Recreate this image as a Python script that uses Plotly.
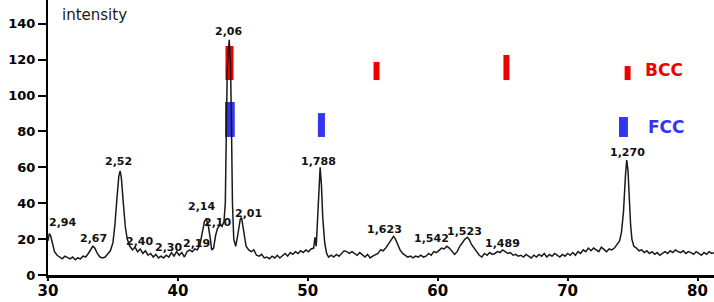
import plotly.graph_objects as go

# ---- diffraction curve ----
angle_deg = [30.0, 30.1, 30.2, 30.35, 30.5, 30.7, 30.9, 31.1, 31.3, 31.5, 31.7, 31.9, 32.1, 32.3, 32.5, 32.7, 32.9,
             33.1, 33.3, 33.45, 33.6, 33.8, 34.0, 34.2, 34.4, 34.6, 34.8, 35.0, 35.15, 35.3, 35.45, 35.55, 35.65,
             35.8, 35.95, 36.1, 36.3, 36.5, 36.7, 36.9, 37.1, 37.3, 37.5, 37.7, 37.9, 38.1, 38.3, 38.5, 38.7, 38.9,
             39.1, 39.3, 39.5, 39.7, 39.9, 40.1, 40.3, 40.5, 40.7, 40.9, 41.1, 41.3, 41.5, 41.7, 41.9, 42.05, 42.2,
             42.35, 42.5, 42.6, 42.75, 42.9, 43.05, 43.25, 43.4, 43.55, 43.65, 43.72, 43.8, 43.95, 44.05, 44.12,
             44.2, 44.3, 44.45, 44.6, 44.8, 44.9, 45.05, 45.25, 45.45, 45.65, 45.85, 46.05, 46.25, 46.45, 46.65,
             46.85, 47.05, 47.25, 47.45, 47.65, 47.85, 48.05, 48.25, 48.45, 48.65, 48.85, 49.05, 49.25, 49.45,
             49.65, 49.85, 50.05, 50.25, 50.45, 50.55, 50.65, 50.75, 50.85, 50.95, 51.05, 51.15, 51.3, 51.45, 51.6,
             51.8, 52.0, 52.2, 52.4, 52.6, 52.8, 53.0, 53.2, 53.4, 53.6, 53.8, 54.0, 54.2, 54.4, 54.6, 54.8, 55.0,
             55.2, 55.4, 55.6, 55.8, 56.0, 56.2, 56.4, 56.6, 56.75, 56.9, 57.1, 57.3, 57.5, 57.7, 57.9, 58.1, 58.3,
             58.5, 58.7, 58.9, 59.1, 59.3, 59.5, 59.7, 59.9, 60.1, 60.3, 60.5, 60.7, 60.9, 61.1, 61.3, 61.5, 61.7,
             61.9, 62.1, 62.3, 62.45, 62.6, 62.8, 63.0, 63.2, 63.4, 63.6, 63.8, 64.0, 64.2, 64.4, 64.6, 64.8, 65.0,
             65.2, 65.4, 65.6, 65.8, 66.0, 66.2, 66.4, 66.6, 66.8, 67.0, 67.2, 67.4, 67.6, 67.8, 68.0, 68.2, 68.4,
             68.6, 68.8, 69.0, 69.2, 69.4, 69.6, 69.8, 70.0, 70.2, 70.4, 70.6, 70.8, 71.0, 71.2, 71.4, 71.6, 71.8,
             72.0, 72.2, 72.4, 72.6, 72.8, 73.0, 73.2, 73.4, 73.6, 73.8, 74.0, 74.15, 74.3, 74.45, 74.55, 74.65,
             74.75, 74.85, 74.95, 75.1, 75.3, 75.5, 75.7, 75.9, 76.1, 76.3, 76.5, 76.7, 76.9, 77.1, 77.3, 77.5,
             77.7, 77.9, 78.1, 78.3, 78.5, 78.7, 78.9, 79.1, 79.3, 79.5, 79.7, 79.9, 80.1, 80.3, 80.5, 80.7, 80.9,
             81.1, 81.3]
intensity = [19, 23, 22, 17, 13, 11, 10, 9, 10.5, 9.5, 9, 10, 8.5, 9.5, 9, 10.5, 10,
             12, 14, 16, 15, 12, 10, 9.5, 10, 12, 13.5, 18, 28, 42, 55, 58, 54,
             40, 27, 20, 16, 14, 15.5, 13, 14.5, 12, 13.5, 11, 12, 10, 11.5, 9.5, 10.5, 9.5,
             11, 10, 12.5, 10.5, 13, 11, 12.5, 10, 13, 14, 13, 14.5, 14, 17, 25, 30, 31,
             27, 20, 14, 15, 22, 26, 28, 27, 30, 40, 85, 115, 131, 118, 85,
             40, 20, 16, 22, 31, 32, 24, 16, 14, 13, 14, 11, 10.5, 11.5, 9.5,
             10, 9, 10.5, 9.5, 11, 9.5, 10.5, 12, 10.5, 12.5, 11.5, 13, 12, 13.5,
             12.5, 14, 13, 14.5, 15, 21, 16, 30, 52, 60, 50, 32, 18, 12, 10,
             11, 10, 11.5, 10.5, 12, 13.5, 13, 12, 13, 12, 11, 12.5, 11, 10, 11.5, 9.5, 10.5,
             11.5, 12, 14, 13.5, 15, 17, 19, 21.5, 20, 17, 14, 12, 11, 10, 10.5, 9.5, 10.5,
             10, 11, 10, 10.5, 12, 11, 13, 12.5, 14, 15, 14.5, 16, 15, 13, 11.5, 13, 16,
             18, 20, 21, 19.5, 17, 15, 13.5, 11, 10, 12, 11, 12.5, 11.5, 12, 13, 12.5, 14,
             13, 12, 12.5, 11, 11.5, 10.5, 11, 10, 11.5, 10.5, 9.5, 11, 10, 11.5, 10.5, 12, 10,
             11.5, 10.5, 12, 11, 10, 11.5, 10.5, 12, 11, 12.5, 11, 13, 12, 14, 13, 15, 13.5,
             15, 14, 13, 15.5, 14, 13, 14.5, 14, 15, 17, 19, 24, 35, 55, 64, 58,
             42, 28, 20, 16, 15, 13.5, 14, 12.5, 13.5, 12, 13, 11.5, 12.5, 11, 12, 13,
             12, 13.5, 12.5, 14, 13, 12.5, 13.5, 12, 13, 12.5, 11.5, 13, 12, 11, 12.5, 11.5, 13,
             12, 12.5]

# ---- peak d-spacing labels ----
peak_labels = ["2,94", "2,67", "2,52", "2,40", "2,30", "2,19", "2,14", "2,10", "2,06", "2,01",
               "1,788", "1,623", "1,542", "1,523", "1,489", "1,270"]
peak_label_angle = [31.12, 33.50, 35.43, 37.04, 39.28, 41.43, 41.82, 43.05, 43.90, 45.43,
                    50.82, 55.90, 59.52, 62.06, 64.99, 74.61]
peak_label_level = [29.0, 20.1, 63.0, 18.9, 15.6, 17.3, 37.9, 29.5, 135.4, 34.5,
                    63.0, 25.6, 20.1, 24.5, 17.8, 68.0]

# ---- reference line markers ----
bcc_angle = [43.97, 55.29, 65.29, 74.62]
bcc_low = [108.6, 108.6, 108.6, 108.6]
bcc_high = [127.6, 118.7, 122.6, 116.4]
fcc_angle = [44.0, 51.05, 74.30]
fcc_low = [76.9, 76.9, 76.9]
fcc_high = [96.4, 90.2, 88.0]

x_ticks = [30, 40, 50, 60, 70, 80]
y_ticks = [0, 20, 40, 60, 80, 100, 120, 140]

RED = "#f00000"
BLUE = "#3535f0"
FONT = "DejaVu Sans"

fig = go.Figure()
fig.add_trace(go.Scatter(x=angle_deg, y=intensity, mode="lines",
                         line=dict(color="#1a1a1a", width=1.5), hoverinfo="skip"))
fig.add_trace(go.Bar(x=bcc_angle, y=[h - l for h, l in zip(bcc_high, bcc_low)], base=bcc_low,
                     width=[0.62, 0.46, 0.46, 0.46], marker=dict(color=RED, line=dict(width=0))))
fig.add_trace(go.Bar(x=fcc_angle, y=[h - l for h, l in zip(fcc_high, fcc_low)], base=fcc_low,
                     width=[0.75, 0.54, 0.69], marker=dict(color=BLUE, line=dict(width=0))))

for t, a, v in zip(peak_labels, peak_label_angle, peak_label_level):
    fig.add_annotation(x=a, y=v, text=t, showarrow=False,
                       font=dict(family=FONT, size=11, color="#111111", weight="bold"))

fig.add_annotation(x=33.58, y=144.8, text="intensity", showarrow=False,
                   font=dict(family=FONT, size=15, color="#1a1a1a"))
fig.add_annotation(x=77.45, y=114.2, text="BCC", showarrow=False,
                   font=dict(family=FONT, size=17, color=RED, weight="bold"))
fig.add_annotation(x=77.6, y=82.4, text="FCC", showarrow=False,
                   font=dict(family=FONT, size=17, color=BLUE, weight="bold"))
fig.add_annotation(x=74.5, y=-8.9, text="angle 2θ", showarrow=False,
                   font=dict(family=FONT, size=13, color="#1a1a1a"))

fig.update_layout(
    width=714, height=302,
    margin=dict(l=48, r=0, t=0, b=27),
    plot_bgcolor="white", paper_bgcolor="white",
    showlegend=False, barmode="overlay",
    xaxis=dict(range=[30, 81.27], tickvals=x_ticks, ticks="outside", ticklen=3, tickwidth=1.5,
               tickcolor="black", showline=True, linewidth=3, linecolor="black",
               showgrid=False, zeroline=False, automargin=False, ticklabelstandoff=-3,
               tickfont=dict(family=FONT, size=15, color="black", weight="bold")),
    yaxis=dict(range=[0, 153.2], tickvals=y_ticks, ticks="outside", ticklen=8, tickwidth=1.5,
               tickcolor="black", showline=True, linewidth=2, linecolor="black",
               showgrid=False, zeroline=False, automargin=False,
               tickfont=dict(family=FONT, size=13, color="black", weight="bold")),
)

fig.write_html("out.html", config={"displayModeBar": False},
               post_script="document.body.style.margin='0';document.body.style.overflow='hidden';")
